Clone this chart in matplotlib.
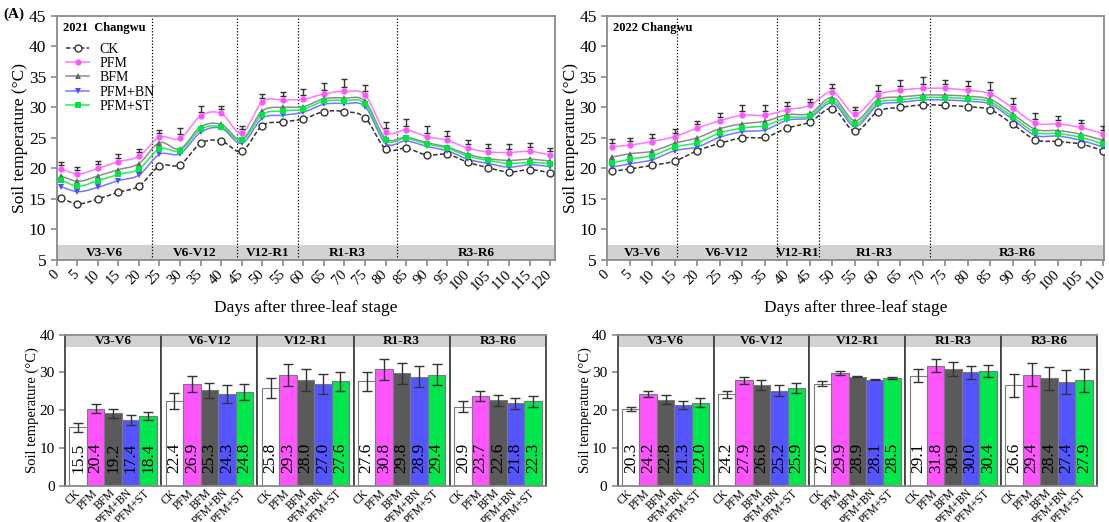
import numpy as np
import matplotlib
matplotlib.use("Agg")
import matplotlib.pyplot as plt

plt.rcParams["font.family"] = ["Liberation Serif", "DejaVu Serif"]
plt.rcParams["mathtext.fontset"] = "stix"

TREATMENTS = ["CK", "PFM", "BFM", "PFM+BN", "PFM+ST"]
STAGES = ["V3-V6", "V6-V12", "V12-R1", "R1-R3", "R3-R6"]

# ---- daily soil temperature, 2021 ----
days_2021 = [1, 5, 10, 15, 20, 25, 30, 35, 40, 45, 50, 55, 60, 65, 70, 75, 80,
             85, 90, 95, 100, 105, 110, 115, 120]
ck_2021 = [15.1, 14.2, 15.0, 16.1, 17.1, 20.4, 20.6, 24.1, 24.5, 22.8, 27.0, 27.6,
           28.1, 29.3, 29.3, 28.3, 23.2, 23.3, 22.2, 22.3, 21.0, 20.1, 19.4, 19.8, 19.3]
pfm_2021 = [19.9, 19.1, 20.0, 21.1, 22.0, 25.1, 24.9, 28.6, 29.0, 25.8, 30.9, 31.2,
            31.3, 32.2, 32.6, 32.0, 26.0, 26.3, 25.2, 24.6, 23.3, 22.7, 22.6, 22.8, 22.2]
bfm_2021 = [18.75, 17.9, 18.75, 19.8, 20.8, 24.2, 23.2, 26.8, 27.2, 24.75, 29.4, 30.0,
            30.1, 31.4, 31.5, 31.0, 24.9, 25.1, 24.2, 23.5, 22.3, 21.6, 21.3, 21.5, 21.2]
bn_2021 = [17.0, 16.2, 16.9, 18.0, 18.9, 22.3, 22.4, 25.9, 26.6, 24.1, 28.2, 28.7,
           29.2, 30.5, 30.6, 30.1, 24.1, 24.5, 23.6, 22.9, 21.5, 20.8, 20.2, 20.6, 20.3]
st_2021 = [18.1, 17.1, 18.0, 19.0, 19.9, 23.2, 22.9, 26.4, 26.8, 24.6, 28.8, 29.4,
           29.7, 31.0, 31.1, 30.6, 24.6, 24.9, 24.0, 23.3, 22.0, 21.3, 20.8, 21.0, 20.8]
pfm_err_2021 = [0.55, 0.5, 0.5, 0.55, 0.5, 0.5, 1.05, 0.95, 0.55, 0.5, 0.55, 0.7,
                1.0, 1.1, 1.35, 0.95, 0.95, 1.1, 1.1, 0.8, 0.65, 0.65, 0.7, 0.7, 0.55]
bounds_2021 = [23.3, 43.9, 58.8, 82.7]

# ---- daily soil temperature, 2022 ----
days_2022 = [1, 5, 10, 15, 20, 25, 30, 35, 40, 45, 50, 55, 60, 65, 70, 75, 80,
             85, 90, 95, 100, 105, 110]
ck_2022 = [19.5, 19.9, 20.5, 21.2, 22.9, 24.1, 25.0, 25.1, 26.6, 27.6, 29.8, 26.1,
           29.3, 30.0, 30.4, 30.3, 30.1, 29.6, 27.2, 24.7, 24.4, 24.0, 22.9]
pfm_2022 = [23.5, 23.8, 24.4, 25.2, 26.6, 27.8, 28.7, 28.7, 29.6, 30.3, 32.5, 28.9,
            32.0, 32.8, 33.1, 33.1, 32.8, 32.2, 29.9, 27.4, 27.3, 26.7, 25.7]
bfm_2022 = [21.85, 22.4, 22.8, 24.1, 25.0, 26.5, 27.3, 27.7, 28.8, 29.0, 31.6, 27.8,
            31.2, 31.7, 32.0, 32.0, 31.8, 31.3, 28.9, 26.4, 26.2, 25.6, 24.6]
bn_2022 = [20.2, 20.75, 21.4, 22.9, 23.5, 25.1, 26.0, 26.3, 27.9, 28.3, 30.7, 26.9,
           30.3, 30.8, 31.2, 31.2, 31.0, 30.5, 28.0, 25.4, 25.3, 24.6, 23.5]
st_2022 = [20.9, 21.5, 22.1, 23.5, 24.2, 25.8, 26.6, 27.0, 28.3, 28.6, 31.1, 27.3,
           30.7, 31.2, 31.6, 31.6, 31.4, 30.9, 28.4, 25.9, 25.7, 25.1, 24.0]
pfm_err_2022 = [0.7, 0.55, 0.55, 0.6, 0.5, 0.6, 1.0, 1.1, 0.65, 0.45, 0.65, 0.5,
                1.0, 1.0, 1.25, 0.8, 0.9, 1.25, 1.05, 0.95, 0.65, 0.55, 0.55]
bounds_2022 = [15.5, 37.7, 47.0, 71.7]

# ---- stage means (rows: stages, cols: treatments) ----
mean_2021 = [[15.5, 20.4, 19.2, 17.4, 18.4],
             [22.4, 26.9, 25.3, 24.3, 24.8],
             [25.8, 29.3, 28.0, 27.0, 27.6],
             [27.6, 30.8, 29.8, 28.9, 29.4],
             [20.9, 23.7, 22.6, 21.8, 22.3]]
sd_2021 = [[1.2, 1.1, 1.2, 1.2, 1.1],
           [2.2, 2.1, 2.0, 2.3, 2.1],
           [2.7, 2.9, 2.9, 2.6, 2.6],
           [2.6, 2.7, 2.8, 2.8, 2.7],
           [1.5, 1.4, 1.4, 1.5, 1.5]]
mean_2022 = [[20.3, 24.2, 22.8, 21.3, 22.0],
             [24.2, 27.9, 26.6, 25.2, 25.9],
             [27.0, 29.9, 28.9, 28.1, 28.5],
             [29.1, 31.8, 30.9, 30.0, 30.4],
             [26.6, 29.4, 28.4, 27.4, 27.9]]
sd_2022 = [[0.6, 0.8, 1.1, 1.1, 1.1],
           [1.0, 1.0, 1.3, 1.4, 1.3],
           [0.7, 0.5, 0.2, 0.1, 0.3],
           [1.7, 1.7, 1.8, 1.7, 1.6],
           [3.0, 3.0, 3.0, 3.1, 3.1]]

LINE_STYLE = {
    "CK":     dict(color="#333333", ls=(0, (3, 1.5)), marker="o", mfc="white", mec="#333333", ms=5, mew=1.0),
    "PFM":    dict(color="#ff77ff", ls="-", marker="o", mfc="#ff55ff", mec="#ff55ff", ms=4.5, mew=0),
    "BFM":    dict(color="#8c8c8c", ls="-", marker="^", mfc="#666666", mec="#666666", ms=4, mew=0),
    "PFM+BN": dict(color="#7777ff", ls="-", marker="v", mfc="#4d4dff", mec="#4d4dff", ms=4, mew=0),
    "PFM+ST": dict(color="#22ee55", ls="-", marker="s", mfc="#00e640", mec="#00e640", ms=5, mew=0),
}
BAR_COLORS = ["white", "#ff55ff", "#5a5a5a", "#5555ff", "#00e64d"]
FRAME = "#8a8a8a"


def smooth(x, y, n=16):
    # cubic Hermite curve through the points, tangents from finite differences
    x = np.asarray(x, float)
    y = np.asarray(y, float)
    m = np.gradient(y, x)
    t = np.linspace(0, 1, n, endpoint=False)
    h00 = 2 * t**3 - 3 * t**2 + 1
    h10 = t**3 - 2 * t**2 + t
    h01 = -2 * t**3 + 3 * t**2
    h11 = t**3 - t**2
    xs, ys = [], []
    for i in range(len(x) - 1):
        h = x[i + 1] - x[i]
        xs.append(x[i] + t * h)
        ys.append(h00 * y[i] + h10 * h * m[i] + h01 * y[i + 1] + h11 * h * m[i + 1])
    xs.append([x[-1]])
    ys.append([y[-1]])
    return np.concatenate(xs), np.concatenate(ys)


def style_frame(ax):
    for s in ax.spines.values():
        s.set_color(FRAME)
        s.set_linewidth(1.3)


def plot_daily(ax, days, series, pfm_err, bounds, xmax, ticks, title, legend, ylab_x):
    gap = 0.65
    for name, vals in zip(TREATMENTS, series):
        st = LINE_STYLE[name]
        xs, ys = smooth(days, vals)
        ax.plot(xs, ys, color=st["color"], ls=st["ls"], lw=1.1, zorder=3)
        ax.plot(days, vals, ls="none", marker=st["marker"], mfc=st["mfc"], mec=st["mec"],
                ms=st["ms"], mew=st["mew"], zorder=4)
        # legend proxy
        ax.plot([], [], color=st["color"], ls=st["ls"], lw=1.1, marker=st["marker"],
                mfc=st["mfc"], mec=st["mec"], ms=st["ms"], mew=st["mew"], label=name)
    pfm = np.asarray(series[1])
    err = np.asarray(pfm_err)
    ax.errorbar(days, pfm + gap + err / 2, yerr=err / 2, fmt="none", ecolor="#333333",
                elinewidth=1.0, capsize=2.5, capthick=1.0, zorder=5)

    ax.axhspan(5, 7.4, color="#d2d2d2", zorder=1, lw=0)
    edges = [0] + bounds + [xmax]
    for b in bounds:
        ax.axvline(b, color="black", ls=(0, (1, 1.5)), lw=0.9, zorder=2)
    for lab, a, b in zip(STAGES, edges[:-1], edges[1:]):
        ax.text((a + b) / 2, 6.2, lab, ha="center", va="center", fontsize=9.5,
                fontweight="bold", zorder=3)

    ax.set_xlim(0, xmax)
    ax.set_ylim(5, 45)
    ax.set_yticks(range(5, 46, 5))
    ax.set_xticks(ticks)
    ax.set_xticklabels([str(t) for t in ticks], rotation=45, ha="right", va="center",
                       rotation_mode="anchor", fontsize=10.5)
    ax.tick_params(axis="y", labelsize=12.5, colors=FRAME, labelcolor="black", length=4, width=1.2)
    ax.tick_params(axis="x", colors=FRAME, labelcolor="black", length=4, width=1.2, pad=5)
    ax.set_ylabel("Soil temperature (°C)", fontsize=12.5)
    ax.yaxis.set_label_coords(ylab_x, 0.5)
    ax.set_xlabel("Days after three-leaf stage", fontsize=12.5, labelpad=5)
    ax.text(0.012, 0.975, title, transform=ax.transAxes, ha="left", va="top",
            fontsize=9, fontweight="bold")
    style_frame(ax)
    if legend:
        ax.legend(loc="upper left", bbox_to_anchor=(0.0, 0.93), frameon=False, fontsize=10,
                  handlelength=1.6, handletextpad=0.8, labelspacing=0.1, borderaxespad=0.3)


def plot_stage_bars(fig, left, right, means, sds):
    bottom, height = 1 - 485.7 / 522, 151.1 / 522
    w = (right - left) / 5
    x = np.arange(len(TREATMENTS))
    for k, stage in enumerate(STAGES):
        ax = fig.add_axes([left + k * w, bottom, w, height])
        ax.bar(x, means[k], width=1.0, color=BAR_COLORS, edgecolor="#7a7a7a", lw=0.8, zorder=2)
        ax.errorbar(x, means[k], yerr=sds[k], fmt="none", ecolor="#333333", elinewidth=1.0,
                    capsize=3.5, capthick=1.0, zorder=3)
        for xi, v in zip(x, means[k]):
            ax.text(xi, 3.3, f"{v:.1f}", rotation=90, ha="center", va="bottom",
                    fontsize=12.5, zorder=4)
        ax.axhspan(36.8, 40, color="#d2d2d2", lw=0, zorder=1)
        ax.text(2, 38.4, stage, ha="center", va="center", fontsize=9.5, fontweight="bold")
        ax.set_xlim(-0.75, 4.75)
        ax.set_ylim(0, 40)
        ax.set_xticks(x)
        ax.set_xticklabels(TREATMENTS, rotation=45, ha="right", va="center",
                           rotation_mode="anchor", fontsize=8.3)
        ax.tick_params(axis="x", length=0, pad=4)
        style_frame(ax)
        ax.spines["left"].set_color("#444444")
        ax.spines["right"].set_color("#444444")
        if k == 0:
            ax.set_yticks(range(0, 41, 10))
            ax.tick_params(axis="y", labelsize=11, colors=FRAME, labelcolor="black",
                           length=4, width=1.2)
            ax.set_ylabel("Soil temperature (°C)", fontsize=10.5)
            ax.yaxis.set_label_coords(-0.27, 0.5)
        else:
            ax.set_yticks([])


fig = plt.figure(figsize=(11.09, 5.22), dpi=100)

top_bottom, top_height = 1 - 260 / 522, (260 - 15.7) / 522
ax1 = fig.add_axes([56.7 / 1109, top_bottom, (555 - 56.7) / 1109, top_height])
plot_daily(ax1, days_2021, [ck_2021, pfm_2021, bfm_2021, bn_2021, st_2021], pfm_err_2021,
           bounds_2021, 121.2, range(0, 121, 5), "2021  Changwu", True, -0.058)

ax2 = fig.add_axes([607 / 1109, top_bottom, (1104 - 607) / 1109, top_height])
plot_daily(ax2, days_2022, [ck_2022, pfm_2022, bfm_2022, bn_2022, st_2022], pfm_err_2022,
           bounds_2022, 110.2, range(0, 111, 5), "2022 Changwu", False, -0.056)

plot_stage_bars(fig, 65 / 1109, 546 / 1109, mean_2021, sd_2021)
plot_stage_bars(fig, 617.7 / 1109, 1097 / 1109, mean_2022, sd_2022)

fig.text(0.003, 0.972, "(A)", fontsize=11, fontweight="bold", va="center", ha="left")

fig.savefig("out.png", dpi=100)
